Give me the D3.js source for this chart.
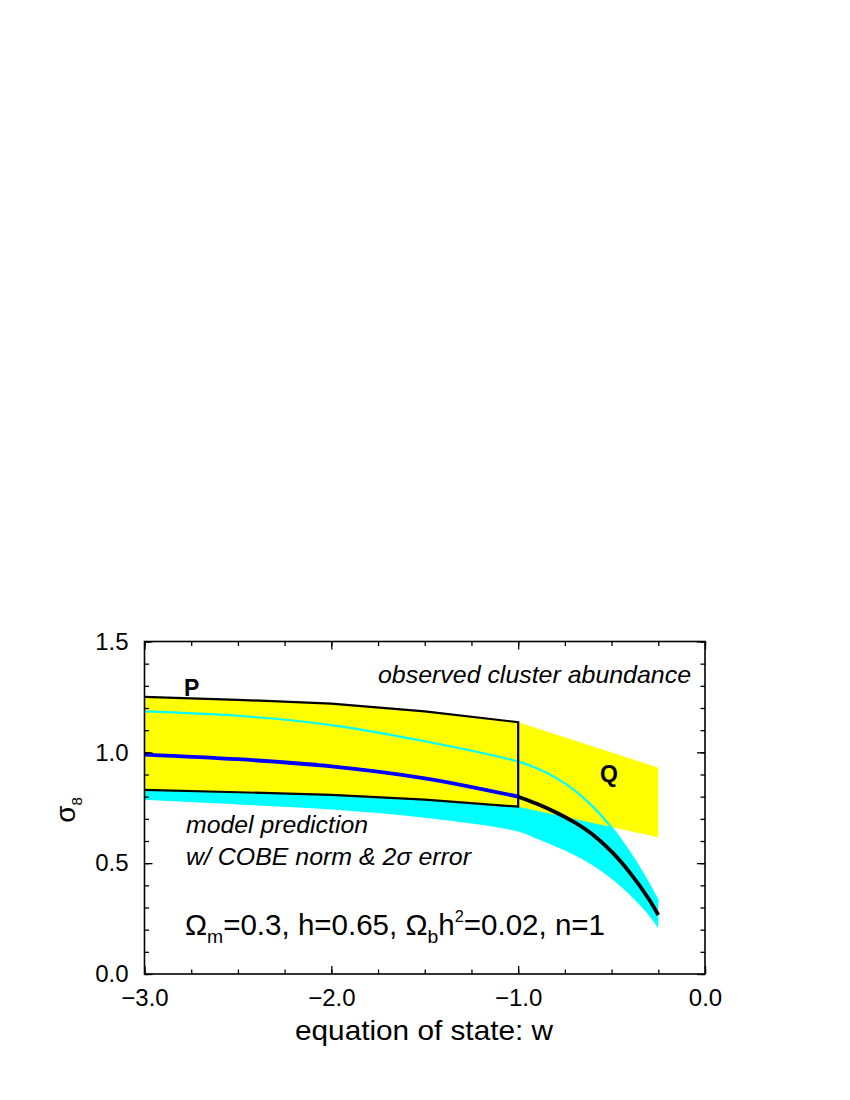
<!DOCTYPE html>
<html>
<head>
<meta charset="utf-8">
<script src="https://cdn.jsdelivr.net/npm/d3@7"></script>
<style>
  html, body { margin: 0; padding: 0; background: #fff; }
  svg { display: block; }
  text { font-family: "Liberation Sans", Arial, Helvetica, sans-serif; fill: #000; }
</style>
</head>
<body>
<svg id="chart" width="850" height="1100"></svg>
<script>
// ---------------- data ----------------
// model prediction (COBE norm) with 2-sigma band
const wModel      = [-3, -2.5, -2, -1.5, -1, -0.9, -0.8, -0.7, -0.6, -0.5, -0.4, -0.3, -0.25];
const sigmaCenter = [0.99, 0.969, 0.937, 0.883, 0.80, 0.768, 0.73, 0.685, 0.628, 0.552, 0.455, 0.337, 0.266];
const sigmaUpper  = [1.185, 1.165, 1.123, 1.05, 0.958, 0.928, 0.886, 0.83, 0.755, 0.66, 0.543, 0.405, 0.326];
const sigmaLower  = [0.785, 0.765, 0.742, 0.705, 0.643, 0.61, 0.575, 0.537, 0.49, 0.43, 0.355, 0.264, 0.206];

// observed cluster abundance, region P (w <= -1)
const wBoxP      = [-3, -2.5, -2, -1.5, -1];
const boxPTop    = [1.25, 1.237, 1.22, 1.185, 1.136];
const boxPBottom = [0.831, 0.82, 0.808, 0.787, 0.755];

// observed cluster abundance, region Q (w > -1)
const wBoxQ      = [-1, -0.25];
const boxQTop    = [1.136, 0.931];
const boxQBottom = [0.755, 0.617];

const xMajorTicks = [-3, -2, -1, 0];
const yMajorTicks = [0, 0.5, 1.0, 1.5];

// ---------------- layout ----------------
const svg = d3.select("#chart");
const L = 144.5, R = 705, T = 641.5, B = 974;
const x = d3.scaleLinear().domain([-3, 0]).range([L, R]);
const y = d3.scaleLinear().domain([0, 1.5]).range([B, T]);
const smooth = d3.curveCatmullRom.alpha(0.5);

const g = svg.append("g");

// cyan 2-sigma band
const bandData = wModel.map((w, i) => ({w, lo: sigmaLower[i], hi: sigmaUpper[i], c: sigmaCenter[i]}));
g.append("path")
  .datum(bandData)
  .attr("fill", "#00ffff")
  .attr("d", d3.area().x(d => x(d.w)).y0(d => y(d.lo)).y1(d => y(d.hi)).curve(smooth));

// yellow observed region (P + Q)
const yellowTop = wBoxP.map((w, i) => [w, boxPTop[i]]).concat(wBoxQ.slice(1).map((w, i) => [w, boxQTop[i + 1]]));
const yellowBot = wBoxP.map((w, i) => [w, boxPBottom[i]]).concat(wBoxQ.slice(1).map((w, i) => [w, boxQBottom[i + 1]]));
const poly = yellowTop.concat(yellowBot.slice().reverse());
g.append("path")
  .attr("fill", "#ffff00")
  .attr("d", "M" + poly.map(p => x(p[0]) + "," + y(p[1])).join("L") + "Z");

// upper band edge as thin cyan line
g.append("path")
  .datum(bandData)
  .attr("fill", "none")
  .attr("stroke", "#00ffff")
  .attr("stroke-width", 2.2)
  .attr("d", d3.line().x(d => x(d.w)).y(d => y(d.hi)).curve(smooth));

// P box outline
const lineLin = d3.line().x(d => x(d[0])).y(d => y(d[1]));
const boxOutline = wBoxP.map((w, i) => [w, boxPTop[i]])
  .concat(wBoxP.slice().reverse().map((w, i) => [w, boxPBottom[wBoxP.length - 1 - i]]));
g.append("path")
  .attr("fill", "none").attr("stroke", "#000").attr("stroke-width", 2.2)
  .attr("stroke-linejoin", "miter")
  .attr("d", lineLin(boxOutline));

// central model line: blue for w<=-1, black for w>=-1
const centerLine = d3.line().x(d => x(d.w)).y(d => y(d.c)).curve(smooth);
g.append("path")
  .datum(bandData.filter(d => d.w <= -1))
  .attr("fill", "none").attr("stroke", "#0000ff").attr("stroke-width", 3.8)
  .attr("d", centerLine);
g.append("path")
  .datum(bandData.filter(d => d.w >= -1))
  .attr("fill", "none").attr("stroke", "#000").attr("stroke-width", 3.8)
  .attr("d", centerLine);

// ---------------- axes ----------------
const fmt = d3.format(".1f");
const xMinor = d3.range(-3, 0.001, 0.25);
const yMinor = d3.range(0, 1.501, 0.1);

function styleAxis(sel) {
  sel.select(".domain").remove();
  sel.selectAll("line").attr("stroke", "#000").attr("stroke-width", 1.3);
  sel.selectAll("text").style("font-size", "24px").attr("fill", "#000")
     .style("font-family", '"Liberation Sans", Arial, sans-serif');
}

svg.append("g").attr("transform", `translate(0,${B})`)
  .call(d3.axisBottom(x).tickValues(xMinor).tickSize(-4.5).tickFormat("")).call(styleAxis);
svg.append("g").attr("transform", `translate(0,${B})`)
  .call(d3.axisBottom(x).tickValues(xMajorTicks).tickSize(-8).tickPadding(15).tickFormat(fmt)).call(styleAxis);
svg.append("g").attr("transform", `translate(0,${T})`)
  .call(d3.axisTop(x).tickValues(xMinor).tickSize(-4.5).tickFormat("")).call(styleAxis);
svg.append("g").attr("transform", `translate(0,${T})`)
  .call(d3.axisTop(x).tickValues(xMajorTicks).tickSize(-8).tickFormat("")).call(styleAxis);

svg.append("g").attr("transform", `translate(${L},0)`)
  .call(d3.axisLeft(y).tickValues(yMinor).tickSize(-4.5).tickFormat("")).call(styleAxis);
svg.append("g").attr("transform", `translate(${L},0)`)
  .call(d3.axisLeft(y).tickValues(yMajorTicks).tickSize(-8).tickPadding(16).tickFormat(fmt)).call(styleAxis);
svg.append("g").attr("transform", `translate(${R},0)`)
  .call(d3.axisRight(y).tickValues(yMinor).tickSize(-4.5).tickFormat("")).call(styleAxis);
svg.append("g").attr("transform", `translate(${R},0)`)
  .call(d3.axisRight(y).tickValues(yMajorTicks).tickSize(-8).tickFormat("")).call(styleAxis);

// frame
svg.append("rect").attr("x", L).attr("y", T).attr("width", R - L).attr("height", B - T)
  .attr("fill", "none").attr("stroke", "#000").attr("stroke-width", 1.6);

// ---------------- texts ----------------
function txt(xp, yp, s, size, opts = {}) {
  const t = svg.append("text").attr("x", xp).attr("y", yp).text(s)
    .style("font-size", size + "px");
  if (opts.italic) t.style("font-style", "italic");
  if (opts.bold) t.style("font-weight", "bold");
  if (opts.anchor) t.attr("text-anchor", opts.anchor);
  if (opts.len) t.attr("textLength", opts.len).attr("lengthAdjust", "spacingAndGlyphs");
  return t;
}

txt(424, 1040, "equation of state: w", 28, {anchor: "middle", len: 258});
txt(691, 683, "observed cluster abundance", 24, {italic: true, anchor: "end", len: 313});
txt(186, 833, "model prediction", 24, {italic: true, len: 182});
txt(186, 865, "w/ COBE norm & 2σ error", 24, {italic: true, len: 285});
txt(184, 696, "P", 23, {bold: true});
txt(600, 782, "Q", 23, {bold: true});

// parameter line
const ft = svg.append("text").attr("x", 185).attr("y", 935).style("font-size", "29px")
  .attr("textLength", 420).attr("lengthAdjust", "spacingAndGlyphs");
ft.append("tspan").text("Ω");
ft.append("tspan").text("m").style("font-size", "19px").attr("dy", 8);
ft.append("tspan").text("=0.3, h=0.65, Ω").attr("dy", -8);
ft.append("tspan").text("b").style("font-size", "19px").attr("dy", 8);
ft.append("tspan").text("h").attr("dy", -8);
ft.append("tspan").text("2").style("font-size", "16px").attr("dy", -13);
ft.append("tspan").text("=0.02, n=1").attr("dy", 13);

// y axis title sigma_8
const yt = svg.append("text").attr("transform", "translate(75,810) rotate(-90)")
  .attr("text-anchor", "middle").style("font-size", "28px");
yt.append("tspan").text("σ");
yt.append("tspan").text("8").style("font-size", "15px").attr("dy", 7);
</script>
</body>
</html>
